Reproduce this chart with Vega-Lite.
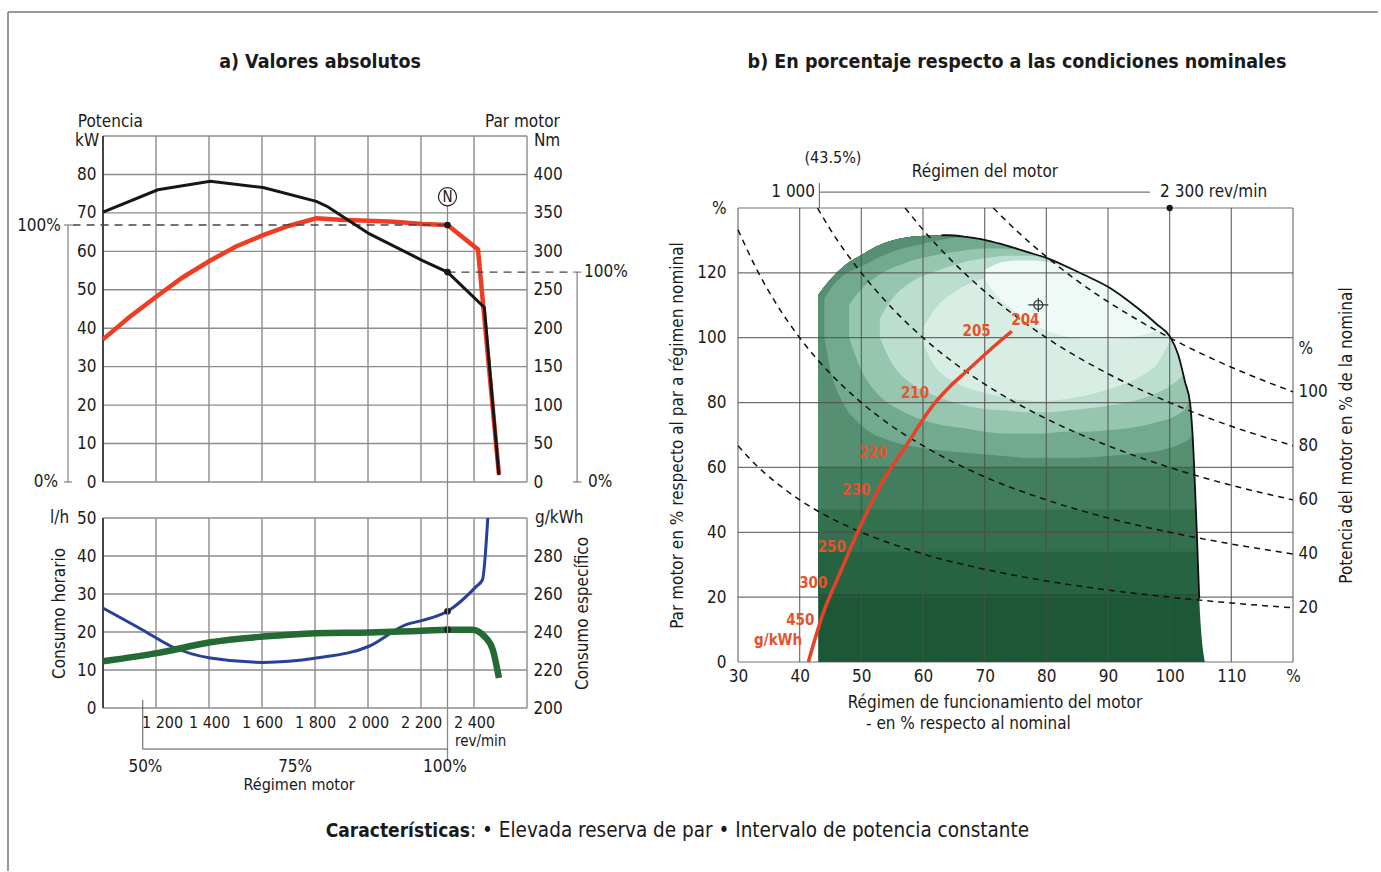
{
"$schema":"https://vega.github.io/schema/vega-lite/v6.json",
"width":1381,"height":872,"autosize":{"type":"none"},"padding":0,"background":"white",
"config":{"font":"Liberation Sans Narrow, Arial Narrow, DejaVu Sans Condensed, sans-serif","view":{"stroke":null},
"axis":{"grid":false,"domain":false,"ticks":false,"labelFontSize":17,"labelColor":"#1a1a1a","titleFontSize":17,"titleFontWeight":"normal","titleColor":"#1a1a1a","labelFlush":false,"labelOverlap":false},
"text":{"fontSize":17,"color":"#1a1a1a"}},
"data":{"values":[{}]},
"datasets":{
"power":[{"rpm":1000,"kW":37.1},{"rpm":1100,"kW":42.9},{"rpm":1207,"kW":48.5},{"rpm":1300,"kW":53.2},{"rpm":1405,"kW":57.6},{"rpm":1500,"kW":61.2},{"rpm":1604,"kW":64.2},{"rpm":1700,"kW":66.6},{"rpm":1805,"kW":68.6},{"rpm":1895,"kW":68.2},{"rpm":2097,"kW":67.7},{"rpm":2206,"kW":67.1},{"rpm":2300,"kW":66.85},{"rpm":2415,"kW":60.5},{"rpm":2494,"kW":2}],
"torque":[{"rpm":1000,"Nm":351},{"rpm":1207,"Nm":380},{"rpm":1405,"Nm":391},{"rpm":1604,"Nm":383},{"rpm":1805,"Nm":365},{"rpm":1848,"Nm":358},{"rpm":2004,"Nm":323},{"rpm":2206,"Nm":288},{"rpm":2300,"Nm":273},{"rpm":2439,"Nm":227},{"rpm":2494,"Nm":9}],
"hourly":[{"rpm":1000,"lh":12.3},{"rpm":1210,"lh":14.5},{"rpm":1405,"lh":17.3},{"rpm":1604,"lh":18.8},{"rpm":1805,"lh":19.7},{"rpm":2004,"lh":19.9},{"rpm":2206,"lh":20.3},{"rpm":2300,"lh":20.6},{"rpm":2393,"lh":20.6},{"rpm":2440,"lh":18.8},{"rpm":2471,"lh":15.3},{"rpm":2494,"lh":7.9}],
"specific":[{"rpm":1000,"g":252.6},{"rpm":1148,"g":241.2},{"rpm":1257,"g":232.5},{"rpm":1405,"g":226.3},{"rpm":1604,"g":224},{"rpm":1805,"g":226.3},{"rpm":2004,"g":232.5},{"rpm":2144,"g":243.9},{"rpm":2206,"g":246.1},{"rpm":2300,"g":250.9},{"rpm":2409,"g":264},{"rpm":2432,"g":267.5},{"rpm":2452,"g":300}],
"rpmGrid":[{"rpm":1000},{"rpm":1200},{"rpm":1400},{"rpm":1600},{"rpm":1800},{"rpm":2000},{"rpm":2200},{"rpm":2400},{"rpm":2600}],
"kwGrid":[{"kW":0},{"kW":10},{"kW":20},{"kW":30},{"kW":40},{"kW":50},{"kW":60},{"kW":70},{"kW":80},{"kW":90}],
"gGrid":[{"g":200},{"g":220},{"g":240},{"g":260},{"g":280},{"g":300}],
"pctX":[{"n":30},{"n":40},{"n":50},{"n":60},{"n":70},{"n":80},{"n":90},{"n":100},{"n":110},{"n":120}],
"pctY":[{"T":0},{"T":20},{"T":40},{"T":60},{"T":80},{"T":100},{"T":120},{"T":140}],
"isopower":[
{"P":20,"n":30,"T":66.7},{"P":20,"n":33,"T":60.6},{"P":20,"n":36,"T":55.6},{"P":20,"n":40,"T":50},{"P":20,"n":45,"T":44.4},{"P":20,"n":50,"T":40},{"P":20,"n":55,"T":36.4},{"P":20,"n":60,"T":33.3},{"P":20,"n":70,"T":28.6},{"P":20,"n":80,"T":25},{"P":20,"n":90,"T":22.2},{"P":20,"n":100,"T":20},{"P":20,"n":110,"T":18.2},{"P":20,"n":120,"T":16.7},
{"P":40,"n":30,"T":133.3},{"P":40,"n":33,"T":121.2},{"P":40,"n":36,"T":111.1},{"P":40,"n":40,"T":100},{"P":40,"n":45,"T":88.9},{"P":40,"n":50,"T":80},{"P":40,"n":55,"T":72.7},{"P":40,"n":60,"T":66.7},{"P":40,"n":70,"T":57.1},{"P":40,"n":80,"T":50},{"P":40,"n":90,"T":44.4},{"P":40,"n":100,"T":40},{"P":40,"n":110,"T":36.4},{"P":40,"n":120,"T":33.3},
{"P":60,"n":42.9,"T":140},{"P":60,"n":45,"T":133.3},{"P":60,"n":50,"T":120},{"P":60,"n":55,"T":109.1},{"P":60,"n":60,"T":100},{"P":60,"n":65,"T":92.3},{"P":60,"n":70,"T":85.7},{"P":60,"n":80,"T":75},{"P":60,"n":90,"T":66.7},{"P":60,"n":100,"T":60},{"P":60,"n":110,"T":54.5},{"P":60,"n":120,"T":50},
{"P":80,"n":57.1,"T":140},{"P":80,"n":60,"T":133.3},{"P":80,"n":65,"T":123.1},{"P":80,"n":70,"T":114.3},{"P":80,"n":75,"T":106.7},{"P":80,"n":80,"T":100},{"P":80,"n":90,"T":88.9},{"P":80,"n":100,"T":80},{"P":80,"n":110,"T":72.7},{"P":80,"n":120,"T":66.7},
{"P":100,"n":71.4,"T":140},{"P":100,"n":75,"T":133.3},{"P":100,"n":80,"T":125},{"P":100,"n":85,"T":117.6},{"P":100,"n":90,"T":111.1},{"P":100,"n":95,"T":105.3},{"P":100,"n":100,"T":100},{"P":100,"n":110,"T":90.9},{"P":100,"n":120,"T":83.3}],
"outline":[{"n":63,"T":131.6},{"n":64,"T":131.6},{"n":67,"T":131.1},{"n":70,"T":130.2},{"n":73,"T":128.7},{"n":77,"T":126.4},{"n":80,"T":124.6},{"n":83,"T":122.2},{"n":86,"T":119.5},{"n":90,"T":115.7},{"n":93,"T":111.8},{"n":96,"T":107.3},{"n":98,"T":104},{"n":100,"T":100.5},{"n":101.4,"T":94.7},{"n":102.5,"T":86.3},{"n":103.3,"T":80},{"n":103.7,"T":70.5},{"n":104.4,"T":40},{"n":104.8,"T":19.5}],
"operating":[{"n":41.4,"T":0},{"n":43.8,"T":15},{"n":46.5,"T":27.3},{"n":49.8,"T":41.7},{"n":53.6,"T":56.1},{"n":57.9,"T":68.5},{"n":60,"T":74.8},{"n":62.2,"T":80.5},{"n":64.5,"T":85.2},{"n":66.8,"T":89.2},{"n":71.3,"T":97},{"n":74.4,"T":102}],
"bsfc":[{"g":"204","n":76.6,"T":105.6},{"g":"205","n":68.7,"T":102.1},{"g":"210","n":58.7,"T":83},{"g":"220","n":51.9,"T":64.5},{"g":"230","n":49.2,"T":53},{"g":"250","n":45.2,"T":35.6},{"g":"300","n":42.2,"T":24.4},{"g":"450","n":40.1,"T":13},{"g":"g/kWh","n":36.5,"T":6.8}],
"zones":[
{"zone":"z0","n":43,"top":113.2,"bottom":0},{"zone":"z0","n":45,"top":118,"bottom":0},{"zone":"z0","n":47.5,"top":122.6,"bottom":0},{"zone":"z0","n":50,"top":125.5,"bottom":0},{"zone":"z0","n":52.5,"top":128.2,"bottom":0},{"zone":"z0","n":55,"top":130,"bottom":0},{"zone":"z0","n":59.5,"top":131.4,"bottom":0},{"zone":"z0","n":64,"top":131.6,"bottom":0},{"zone":"z0","n":67,"top":131.1,"bottom":0},{"zone":"z0","n":70,"top":130.2,"bottom":0},{"zone":"z0","n":73,"top":128.7,"bottom":0},{"zone":"z0","n":77,"top":126.4,"bottom":0},{"zone":"z0","n":80,"top":124.6,"bottom":0},{"zone":"z0","n":83,"top":122.2,"bottom":0},{"zone":"z0","n":86,"top":119.5,"bottom":0},{"zone":"z0","n":90,"top":115.7,"bottom":0},{"zone":"z0","n":93,"top":111.8,"bottom":0},{"zone":"z0","n":96,"top":107.3,"bottom":0},{"zone":"z0","n":98,"top":104,"bottom":0},{"zone":"z0","n":100,"top":100.5,"bottom":0},{"zone":"z0","n":101.4,"top":94.7,"bottom":0},{"zone":"z0","n":102.5,"top":86.3,"bottom":0},{"zone":"z0","n":103.3,"top":80,"bottom":0},{"zone":"z0","n":103.7,"top":70.5,"bottom":0},{"zone":"z0","n":104.4,"top":40,"bottom":0},{"zone":"z0","n":104.8,"top":19.5,"bottom":0},{"zone":"z0","n":105.7,"top":0,"bottom":0},
{"zone":"z1","n":43,"top":113.2,"bottom":21},{"zone":"z1","n":45,"top":118,"bottom":21},{"zone":"z1","n":47.5,"top":122.6,"bottom":21},{"zone":"z1","n":50,"top":125.5,"bottom":21},{"zone":"z1","n":52.5,"top":128.2,"bottom":21},{"zone":"z1","n":55,"top":130,"bottom":21},{"zone":"z1","n":59.5,"top":131.4,"bottom":21},{"zone":"z1","n":64,"top":131.6,"bottom":21},{"zone":"z1","n":67,"top":131.1,"bottom":21},{"zone":"z1","n":70,"top":130.2,"bottom":21},{"zone":"z1","n":73,"top":128.7,"bottom":21},{"zone":"z1","n":77,"top":126.4,"bottom":21},{"zone":"z1","n":80,"top":124.6,"bottom":21},{"zone":"z1","n":83,"top":122.2,"bottom":21},{"zone":"z1","n":86,"top":119.5,"bottom":21},{"zone":"z1","n":90,"top":115.7,"bottom":21},{"zone":"z1","n":93,"top":111.8,"bottom":21},{"zone":"z1","n":96,"top":107.3,"bottom":21},{"zone":"z1","n":98,"top":104,"bottom":21},{"zone":"z1","n":100,"top":100.5,"bottom":21},{"zone":"z1","n":101.4,"top":94.7,"bottom":21},{"zone":"z1","n":102.5,"top":86.3,"bottom":21},{"zone":"z1","n":103.3,"top":80,"bottom":21},{"zone":"z1","n":103.7,"top":70.5,"bottom":21},{"zone":"z1","n":104.4,"top":40,"bottom":21},{"zone":"z1","n":104.75,"top":21,"bottom":21},
{"zone":"z2","n":43,"top":113.2,"bottom":34},{"zone":"z2","n":45,"top":118,"bottom":34},{"zone":"z2","n":47.5,"top":122.6,"bottom":34},{"zone":"z2","n":50,"top":125.5,"bottom":34},{"zone":"z2","n":52.5,"top":128.2,"bottom":34},{"zone":"z2","n":55,"top":130,"bottom":34},{"zone":"z2","n":59.5,"top":131.4,"bottom":34},{"zone":"z2","n":64,"top":131.6,"bottom":34},{"zone":"z2","n":67,"top":131.1,"bottom":34},{"zone":"z2","n":70,"top":130.2,"bottom":34},{"zone":"z2","n":73,"top":128.7,"bottom":34},{"zone":"z2","n":77,"top":126.4,"bottom":34},{"zone":"z2","n":80,"top":124.6,"bottom":34},{"zone":"z2","n":83,"top":122.2,"bottom":34},{"zone":"z2","n":86,"top":119.5,"bottom":34},{"zone":"z2","n":90,"top":115.7,"bottom":34},{"zone":"z2","n":93,"top":111.8,"bottom":34},{"zone":"z2","n":96,"top":107.3,"bottom":34},{"zone":"z2","n":98,"top":104,"bottom":34},{"zone":"z2","n":100,"top":100.5,"bottom":34},{"zone":"z2","n":101.4,"top":94.7,"bottom":34},{"zone":"z2","n":102.5,"top":86.3,"bottom":34},{"zone":"z2","n":103.3,"top":80,"bottom":34},{"zone":"z2","n":103.7,"top":70.5,"bottom":34},{"zone":"z2","n":104.4,"top":40,"bottom":34},{"zone":"z2","n":104.52,"top":34,"bottom":34},
{"zone":"z3","n":43,"top":113.2,"bottom":47},{"zone":"z3","n":45,"top":118,"bottom":47},{"zone":"z3","n":47.5,"top":122.6,"bottom":47},{"zone":"z3","n":50,"top":125.5,"bottom":47},{"zone":"z3","n":52.5,"top":128.2,"bottom":47},{"zone":"z3","n":55,"top":130,"bottom":47},{"zone":"z3","n":59.5,"top":131.4,"bottom":47},{"zone":"z3","n":64,"top":131.6,"bottom":47},{"zone":"z3","n":67,"top":131.1,"bottom":47},{"zone":"z3","n":70,"top":130.2,"bottom":47},{"zone":"z3","n":73,"top":128.7,"bottom":47},{"zone":"z3","n":77,"top":126.4,"bottom":47},{"zone":"z3","n":80,"top":124.6,"bottom":47},{"zone":"z3","n":83,"top":122.2,"bottom":47},{"zone":"z3","n":86,"top":119.5,"bottom":47},{"zone":"z3","n":90,"top":115.7,"bottom":47},{"zone":"z3","n":93,"top":111.8,"bottom":47},{"zone":"z3","n":96,"top":107.3,"bottom":47},{"zone":"z3","n":98,"top":104,"bottom":47},{"zone":"z3","n":100,"top":100.5,"bottom":47},{"zone":"z3","n":101.4,"top":94.7,"bottom":47},{"zone":"z3","n":102.5,"top":86.3,"bottom":47},{"zone":"z3","n":103.3,"top":80,"bottom":47},{"zone":"z3","n":103.7,"top":70.5,"bottom":47},{"zone":"z3","n":104.2,"top":47,"bottom":47},
{"zone":"z4","n":43,"top":113.2,"bottom":60},{"zone":"z4","n":45,"top":118,"bottom":60},{"zone":"z4","n":47.5,"top":122.6,"bottom":60},{"zone":"z4","n":50,"top":125.5,"bottom":60},{"zone":"z4","n":52.5,"top":128.2,"bottom":60},{"zone":"z4","n":55,"top":130,"bottom":60},{"zone":"z4","n":59.5,"top":131.4,"bottom":60},{"zone":"z4","n":64,"top":131.6,"bottom":60},{"zone":"z4","n":67,"top":131.1,"bottom":60},{"zone":"z4","n":70,"top":130.2,"bottom":60},{"zone":"z4","n":73,"top":128.7,"bottom":60},{"zone":"z4","n":77,"top":126.4,"bottom":60},{"zone":"z4","n":80,"top":124.6,"bottom":60},{"zone":"z4","n":83,"top":122.2,"bottom":60},{"zone":"z4","n":86,"top":119.5,"bottom":60},{"zone":"z4","n":90,"top":115.7,"bottom":60},{"zone":"z4","n":93,"top":111.8,"bottom":60},{"zone":"z4","n":96,"top":107.3,"bottom":60},{"zone":"z4","n":98,"top":104,"bottom":60},{"zone":"z4","n":100,"top":100.5,"bottom":60},{"zone":"z4","n":101.4,"top":94.7,"bottom":60},{"zone":"z4","n":102.5,"top":86.3,"bottom":60},{"zone":"z4","n":103.3,"top":80,"bottom":60},{"zone":"z4","n":103.7,"top":70.5,"bottom":60},{"zone":"z4","n":103.95,"top":60,"bottom":60},
{"zone":"z5","n":44,"top":112,"bottom":100},{"zone":"z5","n":45,"top":115,"bottom":90},{"zone":"z5","n":47,"top":119,"bottom":80},{"zone":"z5","n":50,"top":122,"bottom":73},{"zone":"z5","n":55,"top":126.5,"bottom":68},{"zone":"z5","n":60,"top":129,"bottom":66},{"zone":"z5","n":64,"top":130.5,"bottom":65},{"zone":"z5","n":67,"top":131.1,"bottom":64.5},{"zone":"z5","n":70,"top":130.2,"bottom":64},{"zone":"z5","n":73,"top":128.7,"bottom":63.5},{"zone":"z5","n":77,"top":126.4,"bottom":63},{"zone":"z5","n":80,"top":124.6,"bottom":63},{"zone":"z5","n":83,"top":122.2,"bottom":63},{"zone":"z5","n":86,"top":119.5,"bottom":63},{"zone":"z5","n":90,"top":115.7,"bottom":63.5},{"zone":"z5","n":93,"top":111.8,"bottom":64},{"zone":"z5","n":96,"top":107.3,"bottom":64.5},{"zone":"z5","n":98,"top":104,"bottom":65},{"zone":"z5","n":100,"top":100.5,"bottom":66},{"zone":"z5","n":101.4,"top":94.7,"bottom":67},{"zone":"z5","n":102.5,"top":86.3,"bottom":68},{"zone":"z5","n":103.3,"top":80,"bottom":69},{"zone":"z5","n":103.7,"top":70.5,"bottom":70},
{"zone":"z6","n":48,"top":110,"bottom":100},{"zone":"z6","n":50,"top":115,"bottom":90},{"zone":"z6","n":53,"top":119.5,"bottom":82},{"zone":"z6","n":57,"top":123,"bottom":77},{"zone":"z6","n":62,"top":125.5,"bottom":73.5},{"zone":"z6","n":67,"top":127,"bottom":72},{"zone":"z6","n":70,"top":127.5,"bottom":71},{"zone":"z6","n":73,"top":127.5,"bottom":70.5},{"zone":"z6","n":77,"top":126.4,"bottom":70.5},{"zone":"z6","n":80,"top":124.6,"bottom":70.5},{"zone":"z6","n":83,"top":122.2,"bottom":71},{"zone":"z6","n":86,"top":119.5,"bottom":71},{"zone":"z6","n":90,"top":115.7,"bottom":71.5},{"zone":"z6","n":93,"top":111.8,"bottom":72},{"zone":"z6","n":96,"top":107.3,"bottom":73},{"zone":"z6","n":98,"top":104,"bottom":74},{"zone":"z6","n":100,"top":100.5,"bottom":75},{"zone":"z6","n":101.4,"top":94.7,"bottom":76.5},{"zone":"z6","n":102.5,"top":86.3,"bottom":78},{"zone":"z6","n":103.1,"top":82,"bottom":81},
{"zone":"z7","n":53,"top":106,"bottom":100},{"zone":"z7","n":55,"top":112,"bottom":92},{"zone":"z7","n":58,"top":117,"bottom":86},{"zone":"z7","n":62,"top":120.5,"bottom":82},{"zone":"z7","n":66,"top":123,"bottom":79.5},{"zone":"z7","n":70,"top":124.5,"bottom":78},{"zone":"z7","n":74,"top":125.3,"bottom":77.5},{"zone":"z7","n":77,"top":125.3,"bottom":77},{"zone":"z7","n":80,"top":124.4,"bottom":77},{"zone":"z7","n":83,"top":122.2,"bottom":77.5},{"zone":"z7","n":86,"top":119.5,"bottom":78},{"zone":"z7","n":90,"top":115.7,"bottom":79},{"zone":"z7","n":93,"top":111.8,"bottom":80},{"zone":"z7","n":96,"top":107.3,"bottom":81.5},{"zone":"z7","n":98,"top":104,"bottom":83},{"zone":"z7","n":100,"top":100.5,"bottom":85},{"zone":"z7","n":101.4,"top":94.7,"bottom":87},{"zone":"z7","n":102.2,"top":89,"bottom":88.5},
{"zone":"z8","n":60,"top":103,"bottom":98},{"zone":"z8","n":62,"top":109,"bottom":91},{"zone":"z8","n":65,"top":114,"bottom":86.5},{"zone":"z8","n":70,"top":118.5,"bottom":83},{"zone":"z8","n":75,"top":121,"bottom":81},{"zone":"z8","n":80,"top":122,"bottom":80.5},{"zone":"z8","n":83,"top":121.5,"bottom":81},{"zone":"z8","n":86,"top":119.3,"bottom":82},{"zone":"z8","n":90,"top":115.6,"bottom":84},{"zone":"z8","n":93,"top":111.7,"bottom":86},{"zone":"z8","n":96,"top":107.2,"bottom":89},{"zone":"z8","n":98,"top":104,"bottom":92},{"zone":"z8","n":99.5,"top":101.3,"bottom":97},{"zone":"z8","n":100.2,"top":99.5,"bottom":99.4},
{"zone":"z9","n":70,"top":121,"bottom":118},{"zone":"z9","n":72,"top":122.8,"bottom":113},{"zone":"z9","n":75,"top":123.8,"bottom":108},{"zone":"z9","n":78,"top":123.8,"bottom":104},{"zone":"z9","n":81,"top":123,"bottom":101.5},{"zone":"z9","n":84,"top":121,"bottom":100},{"zone":"z9","n":87,"top":118.5,"bottom":99.5},{"zone":"z9","n":90,"top":115.3,"bottom":99.5},{"zone":"z9","n":93,"top":111.5,"bottom":100},{"zone":"z9","n":96,"top":107,"bottom":101},{"zone":"z9","n":98,"top":103.8,"bottom":102},{"zone":"z9","n":99,"top":102.3,"bottom":102.1}]
},
"layer":[
{"layer":[
 {"layer":[
  {"data":{"name":"rpmGrid"},"mark":{"type":"rule","color":"#8c8c8c","strokeWidth":1.4},"encoding":{"x":{"field":"rpm","type":"quantitative","scale":{"domain":[1000,2600],"range":[103,527],"nice":false,"zero":false},"axis":null},"y":{"datum":0,"type":"quantitative"},"y2":{"datum":90}}},
  {"data":{"name":"kwGrid"},"mark":{"type":"rule","color":"#8c8c8c","strokeWidth":1.4},"encoding":{"y":{"field":"kW","type":"quantitative"},"x":{"datum":1000,"axis":null},"x2":{"datum":2600}}},
  {"mark":{"type":"rule","color":"#2a2a2a","strokeWidth":1.6},"encoding":{"x":{"datum":1000,"axis":null},"y":{"datum":0},"y2":{"datum":90}}},
  {"data":{"name":"power"},"mark":{"type":"line","color":"#f03c23","strokeWidth":4.5},"encoding":{"x":{"field":"rpm","type":"quantitative","axis":null},"y":{"field":"kW","type":"quantitative","scale":{"domain":[0,90],"range":[482,136],"nice":false,"zero":false},"axis":{"orient":"left","offset":-103,"values":[0,10,20,30,40,50,60,70,80],"labelPadding":7,"title":null}}}},
  {"mark":{"type":"rule","color":"#444","strokeWidth":1.3,"strokeDash":[8,6]},"encoding":{"x":{"datum":885,"axis":null},"x2":{"datum":2300},"y":{"datum":66.85}}},
  {"mark":{"type":"rule","color":"#444","strokeWidth":1.3,"strokeDash":[8,6]},"encoding":{"x":{"datum":2300,"axis":null},"x2":{"datum":2770},"y":{"datum":54.6}}},
  {"mark":{"type":"rule","color":"#666","strokeWidth":1},"encoding":{"x":{"datum":868,"axis":null},"y":{"datum":0},"y2":{"datum":66.85}}},
  {"mark":{"type":"rule","color":"#666","strokeWidth":1},"encoding":{"x":{"datum":853,"axis":null},"x2":{"datum":883},"y":{"datum":66.85}}},
  {"mark":{"type":"rule","color":"#666","strokeWidth":1},"encoding":{"x":{"datum":853,"axis":null},"x2":{"datum":883},"y":{"datum":0}}},
  {"mark":{"type":"rule","color":"#666","strokeWidth":1},"encoding":{"x":{"datum":2789,"axis":null},"y":{"datum":0},"y2":{"datum":54.6}}},
  {"mark":{"type":"rule","color":"#666","strokeWidth":1},"encoding":{"x":{"datum":2773,"axis":null},"x2":{"datum":2805},"y":{"datum":54.6}}},
  {"mark":{"type":"rule","color":"#666","strokeWidth":1},"encoding":{"x":{"datum":2773,"axis":null},"x2":{"datum":2805},"y":{"datum":0}}},
  {"mark":{"type":"rule","color":"#8a8a8a","strokeWidth":1.3},"encoding":{"x":{"datum":2300,"axis":null},"y":{"datum":-9.4},"y2":{"datum":71.9}}},
  {"mark":{"type":"rule","color":"#777","strokeWidth":1.5},"encoding":{"x":{"datum":641.5,"axis":null},"x2":{"datum":5811},"y":{"datum":122.25}}},
  {"mark":{"type":"rule","color":"#777","strokeWidth":1.5},"encoding":{"x":{"datum":641.5,"axis":null},"y":{"datum":-101.2},"y2":{"datum":122.25}}},
  {"mark":{"type":"point","shape":"circle","filled":true,"color":"#1a1a1a","size":45,"opacity":1},"encoding":{"x":{"datum":2300,"axis":null},"y":{"datum":66.85}}},
  {"mark":{"type":"point","shape":"circle","filled":true,"fill":"white","stroke":"#222","strokeWidth":1.2,"size":330,"opacity":1},"encoding":{"x":{"datum":2300,"axis":null},"y":{"datum":74.2}}},
  {"mark":{"type":"text","text":"N","fontSize":15,"align":"center","baseline":"middle"},"encoding":{"x":{"datum":2300,"axis":null},"y":{"datum":74.2}}},
  {"mark":{"type":"text","text":"a) Valores absolutos","fontSize":19.5,"fontWeight":"bold","align":"center","baseline":"middle"},"encoding":{"x":{"datum":1819,"axis":null},"y":{"datum":109.25}}},
  {"mark":{"type":"text","text":"Potencia","align":"left","baseline":"middle"},"encoding":{"x":{"datum":905,"axis":null},"y":{"datum":93.7}}},
  {"mark":{"type":"text","text":"kW","align":"right","baseline":"middle"},"encoding":{"x":{"datum":985,"axis":null},"y":{"datum":88.8}}},
  {"mark":{"type":"text","text":"Par motor","align":"right","baseline":"middle"},"encoding":{"x":{"datum":2724,"axis":null},"y":{"datum":93.7}}},
  {"mark":{"type":"text","text":"Nm","align":"left","baseline":"middle"},"encoding":{"x":{"datum":2626,"axis":null},"y":{"datum":88.8}}},
  {"mark":{"type":"text","text":"100%","align":"right","baseline":"middle"},"encoding":{"x":{"datum":841,"axis":null},"y":{"datum":66.6}}},
  {"mark":{"type":"text","text":"0%","align":"right","baseline":"middle"},"encoding":{"x":{"datum":830,"axis":null},"y":{"datum":0}}},
  {"mark":{"type":"text","text":"100%","align":"left","baseline":"middle"},"encoding":{"x":{"datum":2815,"axis":null},"y":{"datum":54.6}}},
  {"mark":{"type":"text","text":"0%","align":"left","baseline":"middle"},"encoding":{"x":{"datum":2830,"axis":null},"y":{"datum":0}}}
 ]},
 {"layer":[
  {"data":{"name":"torque"},"mark":{"type":"line","color":"#161616","strokeWidth":3},"encoding":{"x":{"field":"rpm","type":"quantitative","axis":null},"y":{"field":"Nm","type":"quantitative","scale":{"domain":[0,450],"range":[482,136],"nice":false,"zero":false},"axis":{"orient":"right","offset":-854,"values":[0,50,100,150,200,250,300,350,400],"labelPadding":6,"title":null}}}},
  {"mark":{"type":"point","shape":"circle","filled":true,"color":"#1a1a1a","size":45,"opacity":1},"encoding":{"x":{"datum":2300,"axis":null},"y":{"datum":273}}}
 ]}
],"resolve":{"scale":{"y":"independent"}}},
{"layer":[
 {"layer":[
  {"data":{"name":"rpmGrid"},"mark":{"type":"rule","color":"#8c8c8c","strokeWidth":1.4},"encoding":{"x":{"field":"rpm","type":"quantitative","scale":{"domain":[1000,2600],"range":[103,527],"nice":false,"zero":false},"axis":{"orient":"bottom","offset":-164,"values":[1200,1400,1600,1800,2000,2200,2400],"labelExpr":"replace(format(datum.value, ','), ',', ' ')","labelFontSize":16,"labelOffset":{"condition":{"test":"datum.value == 1200","value":6},"value":0},"labelPadding":6,"title":null}},"y":{"datum":200,"type":"quantitative"},"y2":{"datum":300}}},
  {"data":{"name":"gGrid"},"mark":{"type":"rule","color":"#8c8c8c","strokeWidth":1.4},"encoding":{"y":{"field":"g","type":"quantitative"},"x":{"datum":1000},"x2":{"datum":2600}}},
  {"mark":{"type":"rule","color":"#2a2a2a","strokeWidth":1.6},"encoding":{"x":{"datum":1000},"y":{"datum":200},"y2":{"datum":300}}},
  {"data":{"name":"specific"},"mark":{"type":"line","color":"#27409b","strokeWidth":3,"interpolate":"monotone"},"encoding":{"x":{"field":"rpm","type":"quantitative"},"y":{"field":"g","type":"quantitative","scale":{"domain":[200,300],"range":[708,518],"nice":false,"zero":false},"axis":{"orient":"right","offset":-854,"values":[200,220,240,260,280],"labelPadding":6,"title":"Consumo específico","titleAngle":270,"titlePadding":29}}}},
  {"mark":{"type":"point","shape":"circle","filled":true,"color":"#1a1a1a","size":45,"opacity":1},"encoding":{"x":{"datum":2300},"y":{"datum":250.9}}}
 ]},
 {"layer":[
  {"data":{"name":"hourly"},"mark":{"type":"line","color":"#246a33","strokeWidth":6.5,"interpolate":"monotone"},"encoding":{"x":{"field":"rpm","type":"quantitative"},"y":{"field":"lh","type":"quantitative","scale":{"domain":[0,50],"range":[708,518],"nice":false,"zero":false},"axis":{"orient":"left","offset":-103,"values":[0,10,20,30,40,50],"labelPadding":7,"title":"Consumo horario","titlePadding":8}}}},
  {"mark":{"type":"point","shape":"circle","filled":true,"color":"#1a1a1a","size":45,"opacity":1},"encoding":{"x":{"datum":2300},"y":{"datum":20.6}}},
  {"mark":{"type":"rule","color":"#8a8a8a","strokeWidth":1.3},"encoding":{"x":{"datum":2300},"y":{"datum":-13.7},"y2":{"datum":50}}},
  {"mark":{"type":"rule","color":"#555","strokeWidth":1},"encoding":{"x":{"datum":1150},"y":{"datum":-10.8},"y2":{"datum":2.1}}},
  {"mark":{"type":"rule","color":"#555","strokeWidth":1},"encoding":{"x":{"datum":1150},"x2":{"datum":2300},"y":{"datum":-10.8}}},
  {"mark":{"type":"text","text":"l/h","align":"right","baseline":"middle"},"encoding":{"x":{"datum":872},"y":{"datum":50}}},
  {"mark":{"type":"text","text":"g/kWh","align":"left","baseline":"middle"},"encoding":{"x":{"datum":2630},"y":{"datum":50}}},
  {"mark":{"type":"text","text":"rev/min","fontSize":15,"align":"left","baseline":"middle"},"encoding":{"x":{"datum":2328},"y":{"datum":-8.7}}},
  {"mark":{"type":"text","text":"50%","align":"center","baseline":"middle"},"encoding":{"x":{"datum":1160},"y":{"datum":-15.5}}},
  {"mark":{"type":"text","text":"75%","align":"center","baseline":"middle"},"encoding":{"x":{"datum":1725},"y":{"datum":-15.5}}},
  {"mark":{"type":"text","text":"100%","align":"center","baseline":"middle"},"encoding":{"x":{"datum":2290},"y":{"datum":-15.5}}},
  {"mark":{"type":"text","text":"Régimen motor","fontSize":16,"align":"center","baseline":"middle"},"encoding":{"x":{"datum":1740},"y":{"datum":-20.3}}},
  {"mark":{"type":"text","text":"Características","fontSize":19,"fontWeight":"bold","align":"right","baseline":"middle"},"encoding":{"x":{"datum":2385},"y":{"datum":-32.4}}},
  {"mark":{"type":"text","text":": • Elevada reserva de par • Intervalo de potencia constante","fontSize":20.5,"align":"left","baseline":"middle"},"encoding":{"x":{"datum":2385},"y":{"datum":-32.4}}}
 ]}
],"resolve":{"scale":{"y":"independent"}}},
{"layer":[
 {"layer":[
  {"data":{"name":"zones"},"mark":{"type":"area","interpolate":"monotone","opacity":1},"encoding":{"x":{"field":"n","type":"quantitative","scale":{"domain":[30,120],"range":[738,1293],"nice":false,"zero":false},"axis":{"orient":"bottom","offset":-210,"values":[30,40,50,60,70,80,90,100,110,120],"labelExpr":"datum.value == 120 ? '%' : datum.label","labelPadding":6,"title":null}},"y":{"field":"top","type":"quantitative","stack":null,"scale":{"domain":[0,140],"range":[662,208],"nice":false,"zero":false},"axis":{"orient":"left","offset":-738,"values":[0,20,40,60,80,100,120,140],"labelExpr":"datum.value == 140 ? '%' : datum.label","labelPadding":12,"title":"Par motor en % respecto al par a régimen nominal","titlePadding":10}},"y2":{"field":"bottom"},"color":{"field":"zone","type":"nominal","legend":null,"scale":{"domain":["z0","z1","z2","z3","z4","z5","z6","z7","z8","z9"],"range":["#1d5836","#266340","#33704e","#427e5d","#568f71","#72aa8f","#96c6b0","#bbded0","#d8eee5","#eff9f5"]}}}},
  {"data":{"name":"pctX"},"mark":{"type":"rule","color":"#4d4d4d","strokeWidth":1.2,"opacity":0.8},"encoding":{"x":{"field":"n","type":"quantitative"},"y":{"datum":0},"y2":{"datum":140}}},
  {"data":{"name":"pctY"},"mark":{"type":"rule","color":"#4d4d4d","strokeWidth":1.2,"opacity":0.8},"encoding":{"y":{"field":"T","type":"quantitative"},"x":{"datum":30},"x2":{"datum":120}}},
  {"data":{"name":"isopower"},"mark":{"type":"line","color":"#111","strokeWidth":1.5,"strokeDash":[6,5],"interpolate":"monotone"},"encoding":{"x":{"field":"n","type":"quantitative"},"y":{"field":"T","type":"quantitative"},"detail":{"field":"P","type":"nominal"}}},
  {"data":{"name":"outline"},"mark":{"type":"line","color":"#111","strokeWidth":1.8,"interpolate":"monotone"},"encoding":{"x":{"field":"n","type":"quantitative"},"y":{"field":"T","type":"quantitative"}}},
  {"data":{"name":"operating"},"mark":{"type":"line","color":"#e8412a","strokeWidth":3.5,"interpolate":"monotone"},"encoding":{"x":{"field":"n","type":"quantitative"},"y":{"field":"T","type":"quantitative"}}},
  {"data":{"name":"bsfc"},"mark":{"type":"text","fontSize":15,"fontWeight":"bold","color":"#e4532e","align":"center","baseline":"middle"},"encoding":{"x":{"field":"n","type":"quantitative"},"y":{"field":"T","type":"quantitative"},"text":{"field":"g"}}},
  {"mark":{"type":"point","shape":"circle","filled":false,"color":"#333","strokeWidth":1.2,"size":80,"opacity":1},"encoding":{"x":{"datum":78.7},"y":{"datum":110.1}}},
  {"mark":{"type":"point","shape":"M-1,0H1M0,-0.7V0.7","filled":false,"color":"#333","strokeWidth":1.2,"size":400,"opacity":1},"encoding":{"x":{"datum":78.7},"y":{"datum":110.1}}},
  {"mark":{"type":"rule","color":"#777","strokeWidth":1.2},"encoding":{"x":{"datum":43.2},"x2":{"datum":96.8},"y":{"datum":144.9}}},
  {"mark":{"type":"rule","color":"#777","strokeWidth":1.2},"encoding":{"x":{"datum":43.2},"y":{"datum":140},"y2":{"datum":147.7}}},
  {"mark":{"type":"point","shape":"circle","filled":true,"color":"#1a1a1a","size":40,"opacity":1},"encoding":{"x":{"datum":100},"y":{"datum":140}}},
  {"mark":{"type":"text","text":"b) En porcentaje respecto a las condiciones nominales","fontSize":19.5,"fontWeight":"bold","align":"center","baseline":"middle"},"encoding":{"x":{"datum":75.24},"y":{"datum":185}}},
  {"mark":{"type":"text","text":"(43.5%)","fontSize":16,"align":"center","baseline":"middle"},"encoding":{"x":{"datum":45.4},"y":{"datum":155.4}}},
  {"mark":{"type":"text","text":"Régimen del motor","align":"center","baseline":"middle"},"encoding":{"x":{"datum":70.05},"y":{"datum":151.1}}},
  {"mark":{"type":"text","text":"1 000","align":"right","baseline":"middle"},"encoding":{"x":{"datum":42.5},"y":{"datum":144.9}}},
  {"mark":{"type":"text","text":"2 300 rev/min","align":"left","baseline":"middle"},"encoding":{"x":{"datum":98.45},"y":{"datum":144.9}}},
  {"mark":{"type":"text","text":"Régimen de funcionamiento del motor","align":"center","baseline":"middle"},"encoding":{"x":{"datum":71.67},"y":{"datum":-12.64}}},
  {"mark":{"type":"text","text":"- en % respecto al nominal","align":"left","baseline":"middle"},"encoding":{"x":{"datum":50.76},"y":{"datum":-19.1}}}
 ]},
 {"layer":[
  {"mark":{"type":"point","opacity":0},"encoding":{"x":{"datum":120},"y":{"datum":100,"type":"quantitative","scale":{"domain":[0,168],"range":[662,208],"nice":false,"zero":false},"axis":{"orient":"right","offset":-88,"values":[20,40,60,80,100,116],"labelExpr":"datum.value == 116 ? '%' : datum.label","labelPadding":5,"title":"Potencia del motor en % de la nominal","titleAngle":270,"titlePadding":28}}}}
 ]}
],"resolve":{"scale":{"y":"independent"}}}
],
"resolve":{"scale":{"x":"independent","y":"independent"}}
}
